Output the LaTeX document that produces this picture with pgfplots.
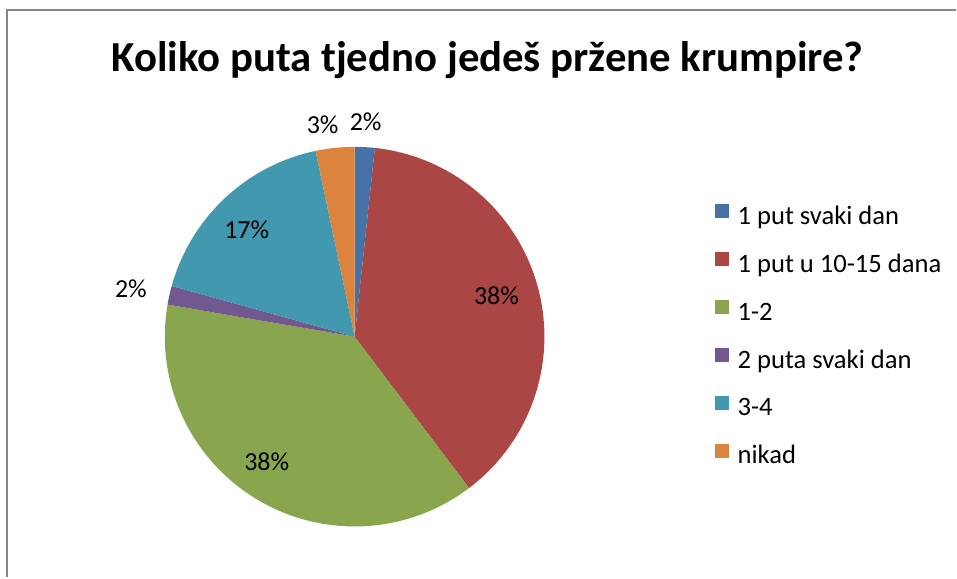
\documentclass[border=0pt]{standalone}
\usepackage{pgfplots}
\pgfplotsset{compat=1.18}
\usepackage{fontspec}
\setmainfont{Carlito}

\definecolor{cA}{HTML}{4572A7}
\definecolor{cB}{HTML}{AA4643}
\definecolor{cC}{HTML}{89A54E}
\definecolor{cD}{HTML}{71588F}
\definecolor{cE}{HTML}{4198AF}
\definecolor{cF}{HTML}{DB843D}
\definecolor{frame}{HTML}{868686}

% shares in percent, clockwise from 12 o'clock
\def\vA{1.7}
\def\vB{38}
\def\vC{38}
\def\vD{1.6}
\def\vE{17.4}
\def\vF{3.3}

\begin{document}
\begin{tikzpicture}
\pgfmathsetmacro\aA{90}
\pgfmathsetmacro\aB{\aA-3.6*\vA}
\pgfmathsetmacro\aC{\aB-3.6*\vB}
\pgfmathsetmacro\aD{\aC-3.6*\vC}
\pgfmathsetmacro\aE{\aD-3.6*\vD}
\pgfmathsetmacro\aF{\aE-3.6*\vE}
\pgfmathsetmacro\aG{\aF-3.6*\vF}
\begin{axis}[
    x=0.5pt, y=0.5pt,
    xmin=0, xmax=957, ymin=0, ymax=578,
    hide axis, clip=false,
    samples=80,
    legend image code/.code={\fill (0pt,-0.6pt) rectangle (7pt,6.4pt);},
    legend style={at={(axis cs:715,374)}, anchor=north west, draw=none,
        fill=none, font=\fontsize{13.3}{16}\selectfont, row sep=11pt,
        inner sep=0pt,
        nodes={inner sep=0pt, text height=10pt, text depth=3pt},
        /tikz/every odd column/.append style={column sep=4.5pt}},
    legend cell align=left,
]
    \path (axis cs:0,0) rectangle (axis cs:957,578);
    \draw[frame, line width=1pt] (axis cs:7,0) -- (axis cs:7,568) -- (axis cs:957,568);

    \addplot[draw=none, fill=cA, domain=\aB:\aA] ({355+190*cos(x)},{241+190*sin(x)}) -- (axis cs:355,241) -- cycle;
    \addplot[draw=none, fill=cB, domain=\aC:\aB] ({355+190*cos(x)},{241+190*sin(x)}) -- (axis cs:355,241) -- cycle;
    \addplot[draw=none, fill=cC, domain=\aD:\aC] ({355+190*cos(x)},{241+190*sin(x)}) -- (axis cs:355,241) -- cycle;
    \addplot[draw=none, fill=cD, domain=\aE:\aD] ({355+190*cos(x)},{241+190*sin(x)}) -- (axis cs:355,241) -- cycle;
    \addplot[draw=none, fill=cE, domain=\aF:\aE] ({355+190*cos(x)},{241+190*sin(x)}) -- (axis cs:355,241) -- cycle;
    \addplot[draw=none, fill=cF, domain=\aG:\aF] ({355+190*cos(x)},{241+190*sin(x)}) -- (axis cs:355,241) -- cycle;
    \legend{1 put svaki dan, 1 put u 10-15 dana, 1-2, 2 puta svaki dan, 3-4, nikad}

    \node[font=\bfseries\fontsize{21.4}{25}\selectfont] at (axis cs:488,518) {Koliko puta tjedno jedeš pržene krumpire?};
    \begin{scope}[every node/.style={font=\fontsize{13}{15}\selectfont}]
    \node at (axis cs:366,456) {2\%};
    \node at (axis cs:323,453) {3\%};
    \node at (axis cs:497,282) {38\%};
    \node at (axis cs:267,116) {38\%};
    \node at (axis cs:131,289) {2\%};
    \node at (axis cs:247,348) {17\%};
    \end{scope}
\end{axis}
\end{tikzpicture}
\end{document}
